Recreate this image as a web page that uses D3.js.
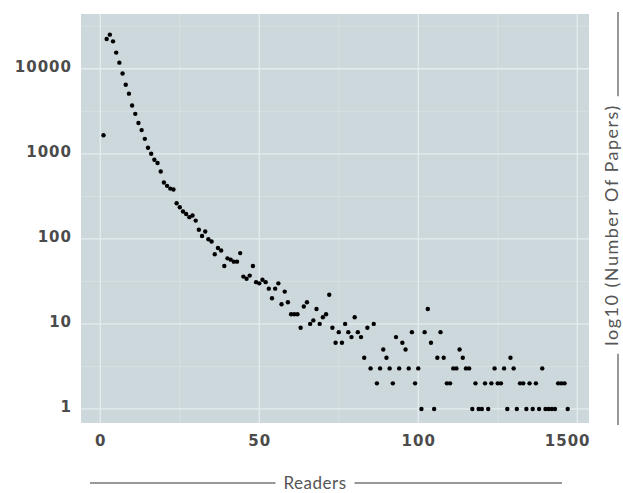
<!DOCTYPE html>
<html>
<head>
<meta charset="utf-8">
<script src="https://cdn.jsdelivr.net/npm/d3@7"></script>
<style>
    body { margin: 0; background: #fff; }
    .tick-label { font-family: "DejaVu Sans", sans-serif; font-weight: bold; font-size: 15px; fill: #4b4b4b; letter-spacing: 1px; }
    .axis-title { font-family: "Lato", sans-serif; fill: #555; }
</style>
</head>
<body>
<div id="chart"></div>
<script>
// number of readers (x) and number of papers with that many readers (y)
const readers = d3.range(1, 148);
const papers = [
    1650, 22400, 25200, 21000, 15500, 11800, 8800, 6500, 5100, 3700,
    2950, 2300, 1900, 1500, 1180, 1000, 850, 780, 620, 460,
    420, 390, 380, 262, 235, 210, 196, 180, 188, 164,
    128, 108, 122, 99, 93, 66, 78, 73, 48, 59,
    57, 54, 54, 68, 36, 34, 37, 48, 31, 30,
    33, 31, 26, 20, 26, 30, 17, 24, 18, 13,
    13, 13, 9, 16, 18, 10, 11, 15, 10, 12,
    13, 22, 9, 6, 8, 6, 10, 8, 7, 12,
    8, 7, 4, 9, 3, 10, 2, 3, 5, 4,
    3, 2, 7, 3, 6, 5, 3, 8, 2, 3,
    1, 8, 15, 6, 1, 4, 8, 4, 2, 2,
    3, 3, 5, 4, 3, 3, 1, 2, 1, 1,
    2, 1, 2, 3, 2, 2, 3, 1, 4, 3,
    1, 2, 2, 1, 2, 1, 2, 1, 3, 1,
    1, 1, 1, 2, 2, 2, 1
];

const xTicks = [0, 50, 100, 150];
const xTickLabels = ["0", "50", "100", "1500"];
const yTicks = [1, 10, 100, 1000, 10000];

const data = readers.map((r, i) => ({ readers: r, papers: papers[i] }));

const width = 623, height = 493;
const panel = { left: 81, right: 589, top: 14, bottom: 423 };

const svg = d3.select("#chart").append("svg")
    .attr("width", width)
    .attr("height", height);

// Scales (domains padded like ggplot's default expansion)
const x = d3.scaleLinear()
    .domain([-6.07, 153.7])
    .range([panel.left, panel.right]);

const y = d3.scaleLog()
    .domain([Math.pow(10, -0.165), Math.pow(10, 4.644)])
    .range([panel.bottom, panel.top]);

// Panel background
svg.append("rect")
    .attr("x", panel.left)
    .attr("y", panel.top)
    .attr("width", panel.right - panel.left)
    .attr("height", panel.bottom - panel.top)
    .attr("fill", "#ccd8db");

// Minor gridlines
const xMinor = [25, 75, 125];
const yMinor = [0.5, 1.5, 2.5, 3.5, 4.5].map(e => Math.pow(10, e));

svg.append("g").selectAll("line")
    .data(xMinor)
    .join("line")
    .attr("x1", d => x(d)).attr("x2", d => x(d))
    .attr("y1", panel.top).attr("y2", panel.bottom)
    .attr("stroke", "#d9e3e5")
    .attr("stroke-width", 0.8);

svg.append("g").selectAll("line")
    .data(yMinor)
    .join("line")
    .attr("x1", panel.left).attr("x2", panel.right)
    .attr("y1", d => y(d)).attr("y2", d => y(d))
    .attr("stroke", "#d9e3e5")
    .attr("stroke-width", 0.8);

// Major gridlines
svg.append("g").selectAll("line")
    .data(xTicks)
    .join("line")
    .attr("x1", d => x(d)).attr("x2", d => x(d))
    .attr("y1", panel.top).attr("y2", panel.bottom)
    .attr("stroke", "#e5edef")
    .attr("stroke-width", 1.3);

svg.append("g").selectAll("line")
    .data(yTicks)
    .join("line")
    .attr("x1", panel.left).attr("x2", panel.right)
    .attr("y1", d => y(d)).attr("y2", d => y(d))
    .attr("stroke", "#e5edef")
    .attr("stroke-width", 1.3);

// Points
svg.append("g").selectAll("circle")
    .data(data)
    .join("circle")
    .attr("cx", d => x(d.readers))
    .attr("cy", d => y(d.papers))
    .attr("r", 2.2)
    .attr("fill", "#000");

// Axes (ticks hidden, labels only)
const xAxis = d3.axisBottom(x)
    .tickValues(xTicks)
    .tickFormat((d, i) => xTickLabels[i])
    .tickSize(0)
    .tickPadding(12);

const gx = svg.append("g")
    .attr("transform", "translate(0," + panel.bottom + ")")
    .call(xAxis);
gx.select(".domain").remove();
gx.selectAll("text")
    .attr("class", "tick-label")
    .attr("font-size", null)
    .attr("font-family", null);
// last label is pulled inside the panel
gx.selectAll(".tick").filter(d => d === 150).select("text")
    .attr("text-anchor", "end")
    .attr("dx", panel.right - x(150) + 1);

const yAxis = d3.axisLeft(y)
    .tickValues(yTicks)
    .tickFormat(d3.format("d"))
    .tickSize(0)
    .tickPadding(9);

const gy = svg.append("g")
    .attr("transform", "translate(" + panel.left + ",0)")
    .call(yAxis);
gy.select(".domain").remove();
gy.selectAll("text")
    .attr("class", "tick-label")
    .attr("font-size", null)
    .attr("font-family", null)
    .attr("dy", "0.2em");

// X axis title with rules either side
const xTitle = svg.append("text")
    .attr("class", "axis-title")
    .attr("x", 315)
    .attr("y", 489)
    .attr("text-anchor", "middle")
    .style("font-size", "17px")
    .style("letter-spacing", "0.5px")
    .text("Readers");

const xtb = xTitle.node().getBBox();
svg.append("line")
    .attr("x1", 90).attr("x2", xtb.x - 8)
    .attr("y1", 483).attr("y2", 483)
    .attr("stroke", "#333").attr("stroke-width", 1);
svg.append("line")
    .attr("x1", xtb.x + xtb.width + 8).attr("x2", 562)
    .attr("y1", 483).attr("y2", 483)
    .attr("stroke", "#333").attr("stroke-width", 1);

// Y axis title on the right, reading upwards
const yTitle = svg.append("text")
    .attr("class", "axis-title")
    .attr("transform", "translate(618,225) rotate(-90)")
    .attr("text-anchor", "middle")
    .style("font-size", "18px")
    .style("letter-spacing", "1.5px")
    .text("log10 (Number Of Papers)");

const ytb = yTitle.node().getBBox();
svg.append("line")
    .attr("x1", 618).attr("x2", 618)
    .attr("y1", 12).attr("y2", 225 - ytb.width / 2 - 8)
    .attr("stroke", "#333").attr("stroke-width", 1);
svg.append("line")
    .attr("x1", 618).attr("x2", 618)
    .attr("y1", 225 + ytb.width / 2 + 8).attr("y2", 425)
    .attr("stroke", "#333").attr("stroke-width", 1);
</script>
</body>
</html>
